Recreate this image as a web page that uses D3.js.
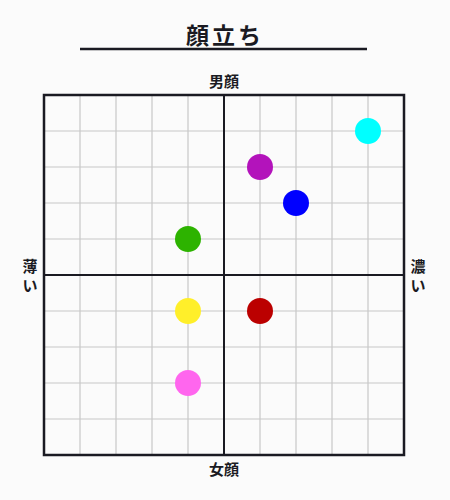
<!DOCTYPE html>
<html>
<head>
<meta charset="utf-8">
<script src="https://cdn.jsdelivr.net/npm/d3@7"></script>
<style>
  body { margin: 0; background: #fbfbfb; }
  text { font-family: "Noto Sans CJK JP", "Noto Sans", sans-serif; fill: #1a1a22; }
</style>
</head>
<body>
<div id="chart"></div>
<script>
// positions on the face map (x: 薄い→濃い, y: 女顔→男顔)
var pointX = [4, 1, 2, -1, -1, 1, -1];
var pointY = [4, 3, 2, 1, -1, -1, -3];
var pointColors = ["#00ffff", "#b313bb", "#0000ff", "#2db300", "#ffef2a", "#bb0000", "#ff66ee"];
var gridTicks = [-5, -4, -3, -2, -1, 0, 1, 2, 3, 4, 5];

var W = 450, H = 500;
var plotLeft = 44, plotTop = 95, size = 360;

var svg = d3.select("#chart").append("svg")
  .attr("width", W)
  .attr("height", H);

var x = d3.scaleLinear().domain([-5, 5]).range([plotLeft, plotLeft + size]);
var y = d3.scaleLinear().domain([-5, 5]).range([plotTop + size, plotTop]);

// title + underline
svg.append("text")
  .attr("x", 225).attr("y", 44)
  .attr("text-anchor", "middle")
  .style("font-size", "23px")
  .style("font-weight", "bold")
  .style("letter-spacing", "3px")
  .text("顔立ち");
svg.append("line")
  .attr("x1", 80).attr("x2", 367)
  .attr("y1", 49).attr("y2", 49)
  .attr("stroke", "#1a1a22").attr("stroke-width", 2.5);

// grid lines
var inner = gridTicks.filter(d => d > -5 && d < 5 && d !== 0);
svg.append("g").selectAll("line").data(inner).enter().append("line")
  .attr("x1", d => x(d)).attr("x2", d => x(d))
  .attr("y1", plotTop).attr("y2", plotTop + size)
  .attr("stroke", "#c8c8c8").attr("stroke-width", 1.2);
svg.append("g").selectAll("line").data(inner).enter().append("line")
  .attr("y1", d => y(d)).attr("y2", d => y(d))
  .attr("x1", plotLeft).attr("x2", plotLeft + size)
  .attr("stroke", "#c8c8c8").attr("stroke-width", 1.2);

// centre axes
svg.append("line")
  .attr("x1", x(0)).attr("x2", x(0))
  .attr("y1", plotTop).attr("y2", plotTop + size)
  .attr("stroke", "#1a1a22").attr("stroke-width", 2);
svg.append("line")
  .attr("y1", y(0)).attr("y2", y(0))
  .attr("x1", plotLeft).attr("x2", plotLeft + size)
  .attr("stroke", "#1a1a22").attr("stroke-width", 2);

// frame
svg.append("rect")
  .attr("x", plotLeft).attr("y", plotTop)
  .attr("width", size).attr("height", size)
  .attr("fill", "none")
  .attr("stroke", "#1a1a22").attr("stroke-width", 2.5);

// axis labels
svg.append("text")
  .attr("x", x(0)).attr("y", 87)
  .attr("text-anchor", "middle")
  .style("font-size", "15px").style("font-weight", "bold")
  .text("男顔");
svg.append("text")
  .attr("x", x(0)).attr("y", 475)
  .attr("text-anchor", "middle")
  .style("font-size", "15px").style("font-weight", "bold")
  .text("女顔");

// vertical side labels, one character per line
function vertLabel(cx, chars) {
  chars.forEach(function(c, i) {
    svg.append("text")
      .attr("x", cx).attr("y", 272 + i * 19)
      .attr("text-anchor", "middle")
      .style("font-size", "15px").style("font-weight", "bold")
      .text(c);
  });
}
vertLabel(30, ["薄", "い"]);
vertLabel(418, ["濃", "い"]);

// points
svg.append("g").selectAll("circle").data(pointX).enter().append("circle")
  .attr("cx", (d, i) => x(pointX[i]))
  .attr("cy", (d, i) => y(pointY[i]))
  .attr("r", 13)
  .attr("fill", (d, i) => pointColors[i]);
</script>
</body>
</html>
